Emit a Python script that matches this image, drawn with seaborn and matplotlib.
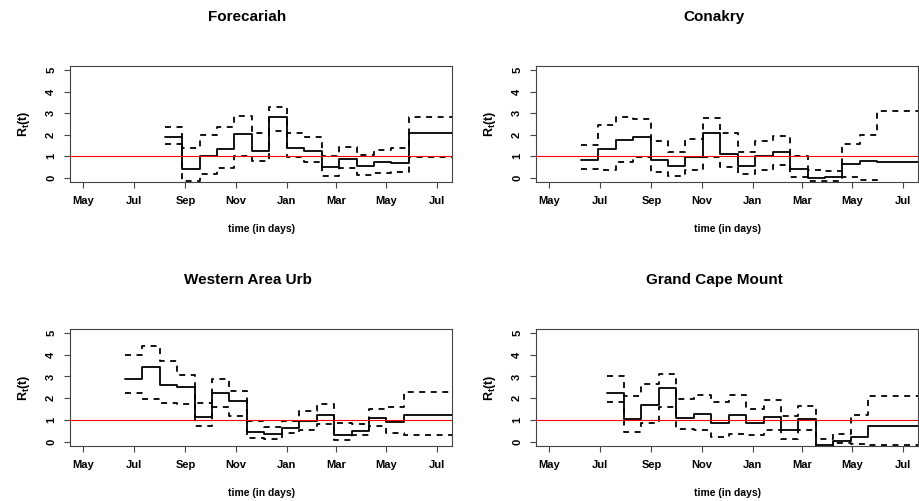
import pandas as pd
import matplotlib
matplotlib.use('Agg')
import matplotlib.pyplot as plt
import matplotlib.dates as mdates
import seaborn as sns

# Estimativas de R(t) em janelas de 21 dias
regioes = ['Forecariah', 'Conakry', 'Western Area Urb', 'Grand Cape Mount']
inicio = ['2014-08-07', '2014-06-08', '2014-06-20', '2014-07-09']
janela_dias = 21

forecariah_media = [1.89, 0.41, 1.04, 1.32, 2.06, 1.27, 2.84, 1.41, 1.27, 0.49, 0.87, 0.55, 0.74, 0.71, 2.10, 2.10, 2.10]
forecariah_sup = [2.36, 1.41, 2.00, 2.38, 2.85, 2.10, 3.28, 2.10, 1.92, 1.00, 1.43, 1.06, 1.30, 1.38, 2.84, 2.84, 2.84]
forecariah_inf = [1.56, -0.12, 0.17, 0.44, 1.03, 0.77, 2.18, 0.98, 0.74, 0.08, 0.45, 0.12, 0.25, 0.30, 0.97, 0.97, 0.97]

conakry_media = [0.81, 1.33, 1.76, 1.89, 0.81, 0.57, 0.95, 2.10, 1.09, 0.57, 1.04, 1.21, 0.41, 0.00, 0.03, 0.64, 0.80, 0.74, 0.74, 0.74]
conakry_sup = [1.52, 2.45, 2.81, 2.71, 1.70, 1.20, 1.79, 2.76, 2.07, 1.20, 1.70, 1.95, 1.00, 0.37, 0.32, 1.58, 2.00, 3.11, 3.11, 3.11]
conakry_inf = [0.41, 0.35, 0.74, 0.97, 0.29, 0.08, 0.35, 0.95, 0.51, 0.20, 0.38, 0.58, 0.05, -0.15, -0.15, 0.03, -0.08, -0.40, -0.40, -0.40]

western_media = [2.87, 3.42, 2.62, 2.50, 1.15, 2.22, 1.89, 0.46, 0.35, 0.63, 0.97, 1.23, 0.29, 0.48, 1.07, 0.90, 1.21, 1.21, 1.21]
western_sup = [4.00, 4.40, 3.73, 3.08, 1.79, 2.87, 2.32, 0.97, 0.66, 0.97, 1.41, 1.73, 0.84, 0.80, 1.50, 1.61, 2.29, 2.29, 2.29]
western_inf = [2.22, 1.96, 1.79, 1.73, 0.74, 1.58, 1.20, 0.18, 0.12, 0.38, 0.54, 0.81, 0.06, 0.29, 0.72, 0.41, 0.31, 0.31, 0.31]

gcm_media = [2.25, 1.03, 1.67, 2.47, 1.10, 1.27, 0.87, 1.21, 0.86, 1.15, 0.52, 1.03, -0.14, 0.03, 0.20, 0.71, 0.71, 0.71]
gcm_sup = [3.00, 2.09, 2.67, 3.13, 1.98, 2.16, 1.84, 2.16, 1.50, 1.92, 1.20, 1.66, 0.14, 0.37, 1.21, 2.10, 2.10, 2.10]
gcm_inf = [1.81, 0.46, 0.84, 1.58, 0.57, 0.52, 0.21, 0.37, 0.31, 0.54, 0.11, 0.54, -0.40, -0.05, -0.12, -0.14, -0.14, -0.14]

series = {
    'Forecariah': (forecariah_media, forecariah_inf, forecariah_sup),
    'Conakry': (conakry_media, conakry_inf, conakry_sup),
    'Western Area Urb': (western_media, western_inf, western_sup),
    'Grand Cape Mount': (gcm_media, gcm_inf, gcm_sup),
}

# Monta dataframe longo (cada janela + ponto final para o degrau)
linhas = []
for reg, ini in zip(regioes, inicio):
    for nome, vals in zip(['media', 'inf', 'sup'], series[reg]):
        datas = pd.date_range(ini, periods=len(vals) + 1, freq=f'{janela_dias}D')
        for d, v in zip(datas, list(vals) + [vals[-1]]):
            linhas.append({'regiao': reg, 'data': d, 'valor': v, 'serie': nome})
df = pd.DataFrame(linhas)

sns.set_style('white')
plt.rcParams['font.family'] = ['Liberation Sans', 'DejaVu Sans']
plt.rcParams['font.weight'] = 'bold'
plt.rcParams['mathtext.fontset'] = 'custom'
plt.rcParams['mathtext.rm'] = 'Liberation Sans:bold'
plt.rcParams['mathtext.bf'] = 'Liberation Sans:bold'
plt.rcParams['lines.scale_dashes'] = False
plt.rcParams['text.color'] = 'black'
plt.rcParams['axes.labelcolor'] = 'black'
plt.rcParams['xtick.color'] = 'black'
plt.rcParams['ytick.color'] = 'black'

fig = plt.figure(figsize=(9.19, 5.01), dpi=100)
W, H = 919, 501
posicoes = [(70, 182.3, 65.7), (536, 182.3, 65.7), (70, 446, 328.7), (536, 446, 328.7)]
titulo_x = [247.5, 714, 247.5, 714]
titulo_y = [16.7, 16.7, 280, 280]

for i, reg in enumerate(regioes):
    esq, base, topo = posicoes[i]
    ax = fig.add_axes([esq / W, 1 - base / H, 382 / W, (base - topo) / H])
    dados = df[df['regiao'] == reg]
    sns.lineplot(data=dados, x='data', y='valor', style='serie',
                 dashes={'media': '', 'inf': (4.3, 4.0), 'sup': (4.3, 4.0)},
                 color='black', linewidth=1.3, drawstyle='steps-post',
                 estimator=None, sort=True, legend=False, ax=ax)
    ax.axhline(1, color='red', linewidth=0.8, zorder=5)

    ax.set_xlim(pd.Timestamp('2014-04-15'), pd.Timestamp('2015-07-19'))
    ax.set_ylim(-0.2, 5.2)
    ax.set_yticks([0, 1, 2, 3, 4, 5])
    ax.xaxis.set_major_locator(mdates.MonthLocator(bymonth=[1, 3, 5, 7, 9, 11]))
    ax.xaxis.set_major_formatter(mdates.DateFormatter('%b'))
    ax.tick_params(axis='both', direction='out', length=4, width=0.8,
                   color='#444444', labelcolor='black', labelsize=8, pad=6,
                   bottom=True, left=True)
    ax.tick_params(axis='y', labelrotation=90)
    for lab in ax.get_yticklabels():
        lab.set_va('center')
    for s in ax.spines.values():
        s.set_color('#444444')
        s.set_linewidth(0.8)

    ax.set_xlabel('time (in days)', fontsize=7.5, fontweight='bold')
    ax.xaxis.set_label_coords(0.5, -0.36)
    ax.set_ylabel(r'R$_{\mathbf{t}}$(t)', fontsize=9, fontweight='bold')
    ax.yaxis.set_label_coords(-0.10, 0.5)

    fig.text(titulo_x[i] / W, 1 - titulo_y[i] / H, reg, ha='center', va='center',
             fontsize=11, fontweight='bold')

plt.savefig('out.png', dpi=100)
